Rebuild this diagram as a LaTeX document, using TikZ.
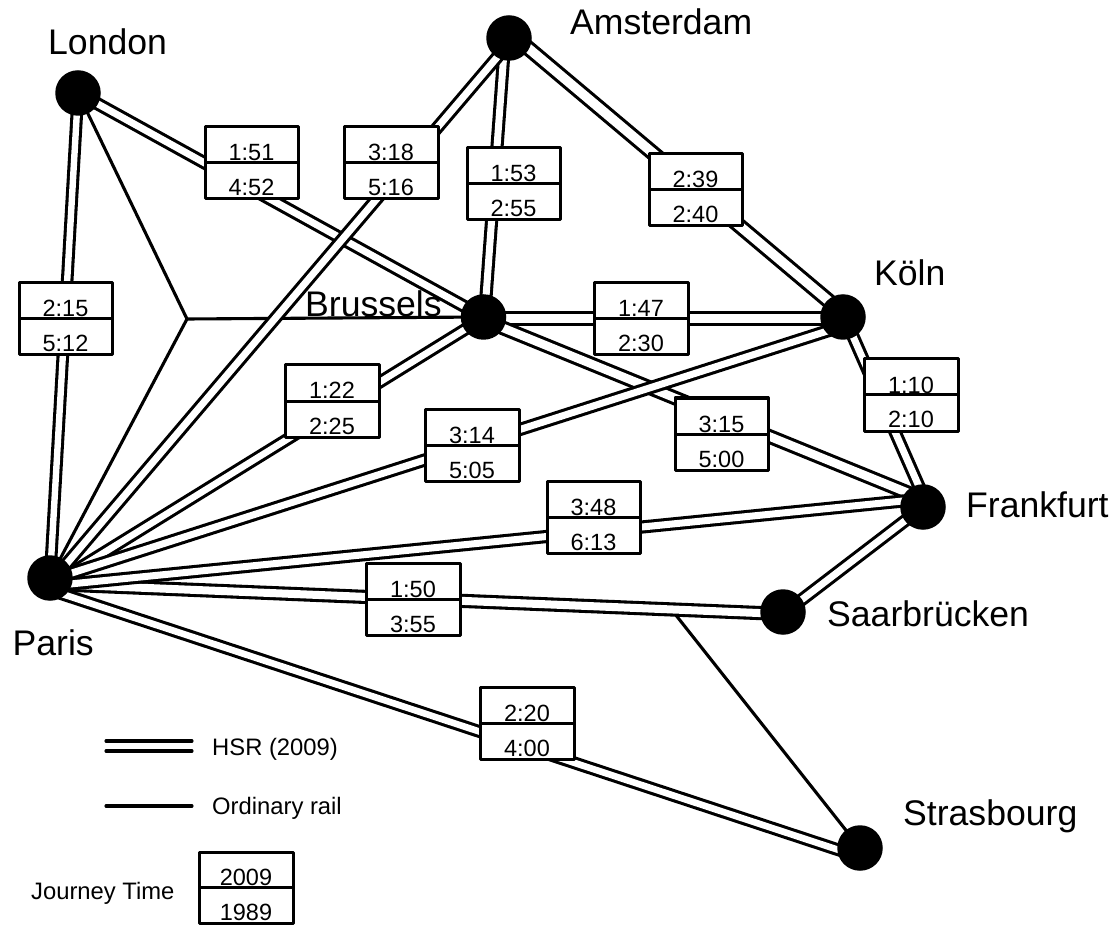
\documentclass[tikz,border=0pt]{standalone}
\usepackage{fontspec}
\setmainfont{Liberation Sans}
\usetikzlibrary{backgrounds}
\newcommand{\jbox}[6]{% name, left, top, right, bottom, texts
  \node[tbox,minimum width=#4-#2,minimum height=#5-#3] (#1) at ({(#2+#4)/2},{(#3+#5)/2}) {};
  \draw[boxline] (#1.west) -- (#1.east);
  \jtexts{#1}#6}
\newcommand{\jtexts}[3]{%
  \node[ttext] (#1t) at ([yshift=2pt]#1.center) {#2};
  \node[ttext] (#1b) at ([yshift=3pt]#1.south) {#3};}
\tikzset{
  x=1pt,y=-1pt,
  city/.style={circle,fill=black,draw=none,minimum size=45.5pt,inner sep=0pt},
  cityname/.style={anchor=base west,inner sep=0pt,font=\fontsize{35.6}{40}\selectfont},
  tbox/.style={draw=black,fill=white,line width=3pt,inner sep=0pt,outer sep=0pt,line join=round},
  boxline/.style={line width=3pt},
  ttext/.style={anchor=base,inner sep=0pt,font=\fontsize{23.5}{26}\selectfont},
  legtext/.style={anchor=base west,inner sep=0pt,font=\fontsize{23.8}{26}\selectfont},
  hsr/.style={draw=black,line width={#1+6.2pt},postaction={draw=white,line width=#1}},
  hsr/.default=7pt,
  rail/.style={draw=black,line width=3.1pt,line cap=round},
}
\begin{document}
\begin{tikzpicture}
\useasboundingbox (0,0) rectangle (1117,925);
\node[city] (london) at (78,93) {};
\node[city] (amsterdam) at (509,38) {};
\node[city] (brussels) at (483.5,317) {};
\node[city] (koln) at (843,317) {};
\node[city] (frankfurt) at (923,507) {};
\node[city] (saar) at (783,612) {};
\node[city] (paris) at (50,578) {};
\node[city] (strasbourg) at (860,848) {};
\node[cityname] (nlondon) at (48,55) {London};
\node[cityname] (namsterdam) at (570,35) {Amsterdam};
\node[cityname] (nbrussels) at (305,317) {Brussels};
\node[cityname] (nkoln) at (874,286) {Köln};
\node[cityname] (nfrankfurt) at (966,517) {Frankfurt};
\node[cityname] (nsaar) at (827,626) {Saarbrücken};
\node[cityname] (nparis) at (12.5,655) {Paris};
\node[cityname] (nstrasbourg) at (903,825) {Strasbourg};
\jbox{a}{205}{127}{298}{199}{{1:51}{4:52}}
\jbox{b}{344}{127}{438}{199}{{3:18}{5:16}}
\jbox{c}{467}{148}{560}{220}{{1:53}{2:55}}
\jbox{d}{649}{154}{742}{226}{{2:39}{2:40}}
\jbox{e}{19}{283}{112}{355}{{2:15}{5:12}}
\jbox{f}{594}{283}{688}{355}{{1:47}{2:30}}
\jbox{g}{285}{365}{379}{437}{{1:22}{2:25}}
\jbox{h}{864}{359}{958}{431}{{1:10}{2:10}}
\jbox{i}{675}{398}{768}{470}{{3:15}{5:00}}
\jbox{j}{425}{409}{519}{481}{{3:14}{5:05}}
\jbox{k}{547}{481}{640}{553}{{3:48}{6:13}}
\jbox{l}{366}{563}{460}{635}{{1:50}{3:55}}
\jbox{m}{480}{687}{574}{759}{{2:20}{4:00}}
\jbox{n}{199}{852}{293}{923.4}{{2009}{1989}}
\node[legtext] (lhsr) at (212,755) {HSR (2009)};
\node[legtext] (lord) at (212,814) {Ordinary rail};
\node[legtext] (ljt) at (31,899) {Journey Time};
\coordinate (jn) at (187,319);
\coordinate (st) at (675,614);
\coordinate (h1) at (106,741);
\coordinate (h2) at (192,741);
\coordinate (h3) at (106,751);
\coordinate (h4) at (192,751);
\coordinate (o1) at (106,806);
\coordinate (o2) at (192,806);
\begin{scope}[on background layer]
\draw[rail] (london.center) -- (jn) -- (paris.center);
\draw[rail] (jn) -- (brussels.center);
\draw[rail] (st) -- (strasbourg.center);
\draw[hsr] (london.center) -- (brussels.center);
\draw[hsr=6.4pt] (london.center) -- (paris.center);
\draw[hsr] ([xshift=-4pt]amsterdam.center) -- ([xshift=1pt]brussels.center);
\draw[hsr=9.5pt] ([yshift=6pt]amsterdam.center) -- ([yshift=4pt]koln.center);
\draw[hsr=8.5pt] ([yshift=-1.5pt]brussels.center) -- ([yshift=-1.5pt]koln.center);
\draw[hsr=8.5pt] ([yshift=-3pt]brussels.center) -- ([yshift=8pt]frankfurt.center);
\draw[hsr] ([xshift=1.5pt]koln.center) -- ([xshift=5pt]frankfurt.center);
\draw[hsr] ([yshift=-2pt]saar.center) -- (frankfurt.center);
\draw[hsr=6.6pt] ([yshift=-12pt]paris.center) -- ([yshift=-9pt]strasbourg.center);
\draw[hsr=8pt] ([yshift=-6pt]paris.center) -- ([yshift=-2pt]saar.center);
\draw[hsr] ([yshift=-8pt]paris.center) -- ([yshift=8pt]frankfurt.center);
\draw[hsr=6.6pt] ([yshift=-8pt]paris.center) -- ([yshift=-1pt]brussels.center);
\draw[hsr] ([yshift=-2pt]paris.center) -- ([yshift=-9pt]koln.center);
\draw[hsr] ([xshift=4.5pt]paris.center) -- ([xshift=4.5pt]amsterdam.center);
\end{scope}
\draw[rail] (h1) -- (h2);
\draw[rail] (h3) -- (h4);
\draw[rail] (o1) -- (o2);
\end{tikzpicture}
\end{document}
